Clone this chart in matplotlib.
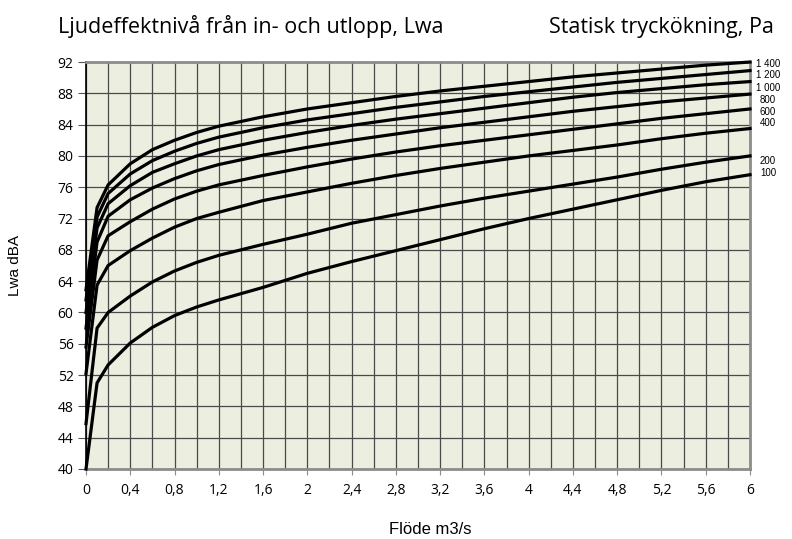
import numpy as np
import matplotlib
matplotlib.use("Agg")
import matplotlib.pyplot as plt
from matplotlib.ticker import MultipleLocator

flow = [0, 0.1, 0.2, 0.4, 0.6, 0.8, 1.0, 1.2, 1.6, 2.0, 2.4, 2.8, 3.2, 3.6, 4.0, 4.4, 4.8, 5.2, 5.6, 6.0]

# Lwa dBA per static pressure rise (Pa)
lwa_100 = [40.0, 51.0, 53.3, 56.1, 58.1, 59.6, 60.7, 61.6, 63.2, 65.0, 66.5, 67.9, 69.3, 70.7, 72.0, 73.2, 74.4, 75.6, 76.7, 77.6]
lwa_200 = [45.8, 58.0, 60.0, 62.1, 63.9, 65.3, 66.4, 67.3, 68.7, 70.0, 71.4, 72.5, 73.6, 74.6, 75.5, 76.4, 77.3, 78.3, 79.2, 80.0]
lwa_400 = [52.2, 63.5, 66.0, 67.9, 69.5, 70.9, 72.0, 72.8, 74.3, 75.4, 76.5, 77.5, 78.4, 79.2, 80.0, 80.7, 81.4, 82.2, 82.9, 83.5]
lwa_600 = [55.6, 66.7, 69.8, 71.6, 73.2, 74.5, 75.5, 76.3, 77.5, 78.6, 79.6, 80.5, 81.3, 82.0, 82.7, 83.4, 84.1, 84.8, 85.4, 86.0]
lwa_800 = [58.0, 69.0, 72.3, 74.4, 75.9, 77.1, 78.1, 78.9, 80.1, 81.1, 82.0, 82.8, 83.6, 84.3, 85.0, 85.7, 86.3, 86.9, 87.4, 87.9]
lwa_1000 = [60.0, 70.8, 73.9, 76.2, 77.9, 79.0, 80.0, 80.8, 82.0, 83.0, 83.9, 84.7, 85.4, 86.1, 86.8, 87.5, 88.1, 88.6, 89.1, 89.5]
lwa_1200 = [61.6, 72.2, 75.2, 77.7, 79.4, 80.6, 81.6, 82.4, 83.6, 84.6, 85.4, 86.2, 86.9, 87.6, 88.2, 88.8, 89.4, 89.9, 90.4, 90.9]
lwa_1400 = [62.9, 73.4, 76.3, 79.0, 80.8, 82.0, 83.0, 83.8, 85.0, 86.0, 86.8, 87.6, 88.3, 88.9, 89.5, 90.1, 90.6, 91.1, 91.6, 92.0]

curves = [lwa_100, lwa_200, lwa_400, lwa_600, lwa_800, lwa_1000, lwa_1200, lwa_1400]
pressure_labels = ["100", "200", "400", "600", "800", "1 000", "1 200", "1 400"]
label_y = [77.8, 79.3, 84.2, 85.6, 87.1, 88.7, 90.3, 91.8]

x_ticks = np.arange(0, 6.01, 0.4)
x_ticklabels = ["0", "0,4", "0,8", "1,2", "1,6", "2", "2,4", "2,8", "3,2", "3,6", "4",
                "4,4", "4,8", "5,2", "5,6", "6"]

W, H = 792, 539
fig = plt.figure(figsize=(W / 100, H / 100), dpi=100)
ax = fig.add_axes([86 / W, 1 - 469 / H, (750 - 86) / W, (469 - 62) / H])
ax.set_facecolor("#eceedf")

ax.set_xlim(0, 6)
ax.set_ylim(40, 92)
ax.set_xticks(x_ticks)
ax.set_xticklabels(x_ticklabels)
ax.set_yticks(np.arange(40, 93, 4))
ax.xaxis.set_minor_locator(MultipleLocator(0.2))

ax.grid(True, which="both", axis="x", color="#4a4a4a", lw=0.9)
ax.grid(True, which="major", axis="y", color="#4a4a4a", lw=0.9)
ax.set_axisbelow(True)

for c in curves:
    ax.plot(flow, c, color="black", lw=2.3, solid_joinstyle="round", clip_on=False, zorder=3)

for lab, ly in zip(pressure_labels, label_y):
    ax.text(6.163, ly, lab, ha="center", va="center", fontsize=7,
            family="Liberation Sans", clip_on=False)

for side in ["top", "right", "bottom"]:
    ax.spines[side].set_color("#8c8c8c")
    ax.spines[side].set_linewidth(2)
ax.spines["left"].set_color("black")
ax.spines["left"].set_linewidth(1.2)

ax.tick_params(axis="x", which="major", length=4, color="#8c8c8c", pad=6)
ax.tick_params(axis="x", which="minor", length=0)
ax.tick_params(axis="y", length=6, color="#555555", pad=3)
for t in ax.get_xticklabels() + ax.get_yticklabels():
    t.set_family("Open Sans")
    t.set_fontsize(10)

fig.text(15 / W, 1 - 265 / H, "Lwa dBA", rotation=90, ha="center", va="center",
         fontsize=11, family="Liberation Sans")
fig.text(430 / W, 1 - 530 / H, "Flöde m3/s", ha="center", va="center",
         fontsize=12, family="Liberation Sans")

fig.text(58 / W, 1 - 33 / H, "Ljudeffektnivå från in- och utlopp, Lwa", ha="left",
         va="baseline", fontsize=15.5, family="Open Sans")
fig.text(549 / W, 1 - 33 / H, "Statisk tryckökning, Pa", ha="left",
         va="baseline", fontsize=15.5, family="Open Sans")

fig.savefig("out.png", dpi=100)
